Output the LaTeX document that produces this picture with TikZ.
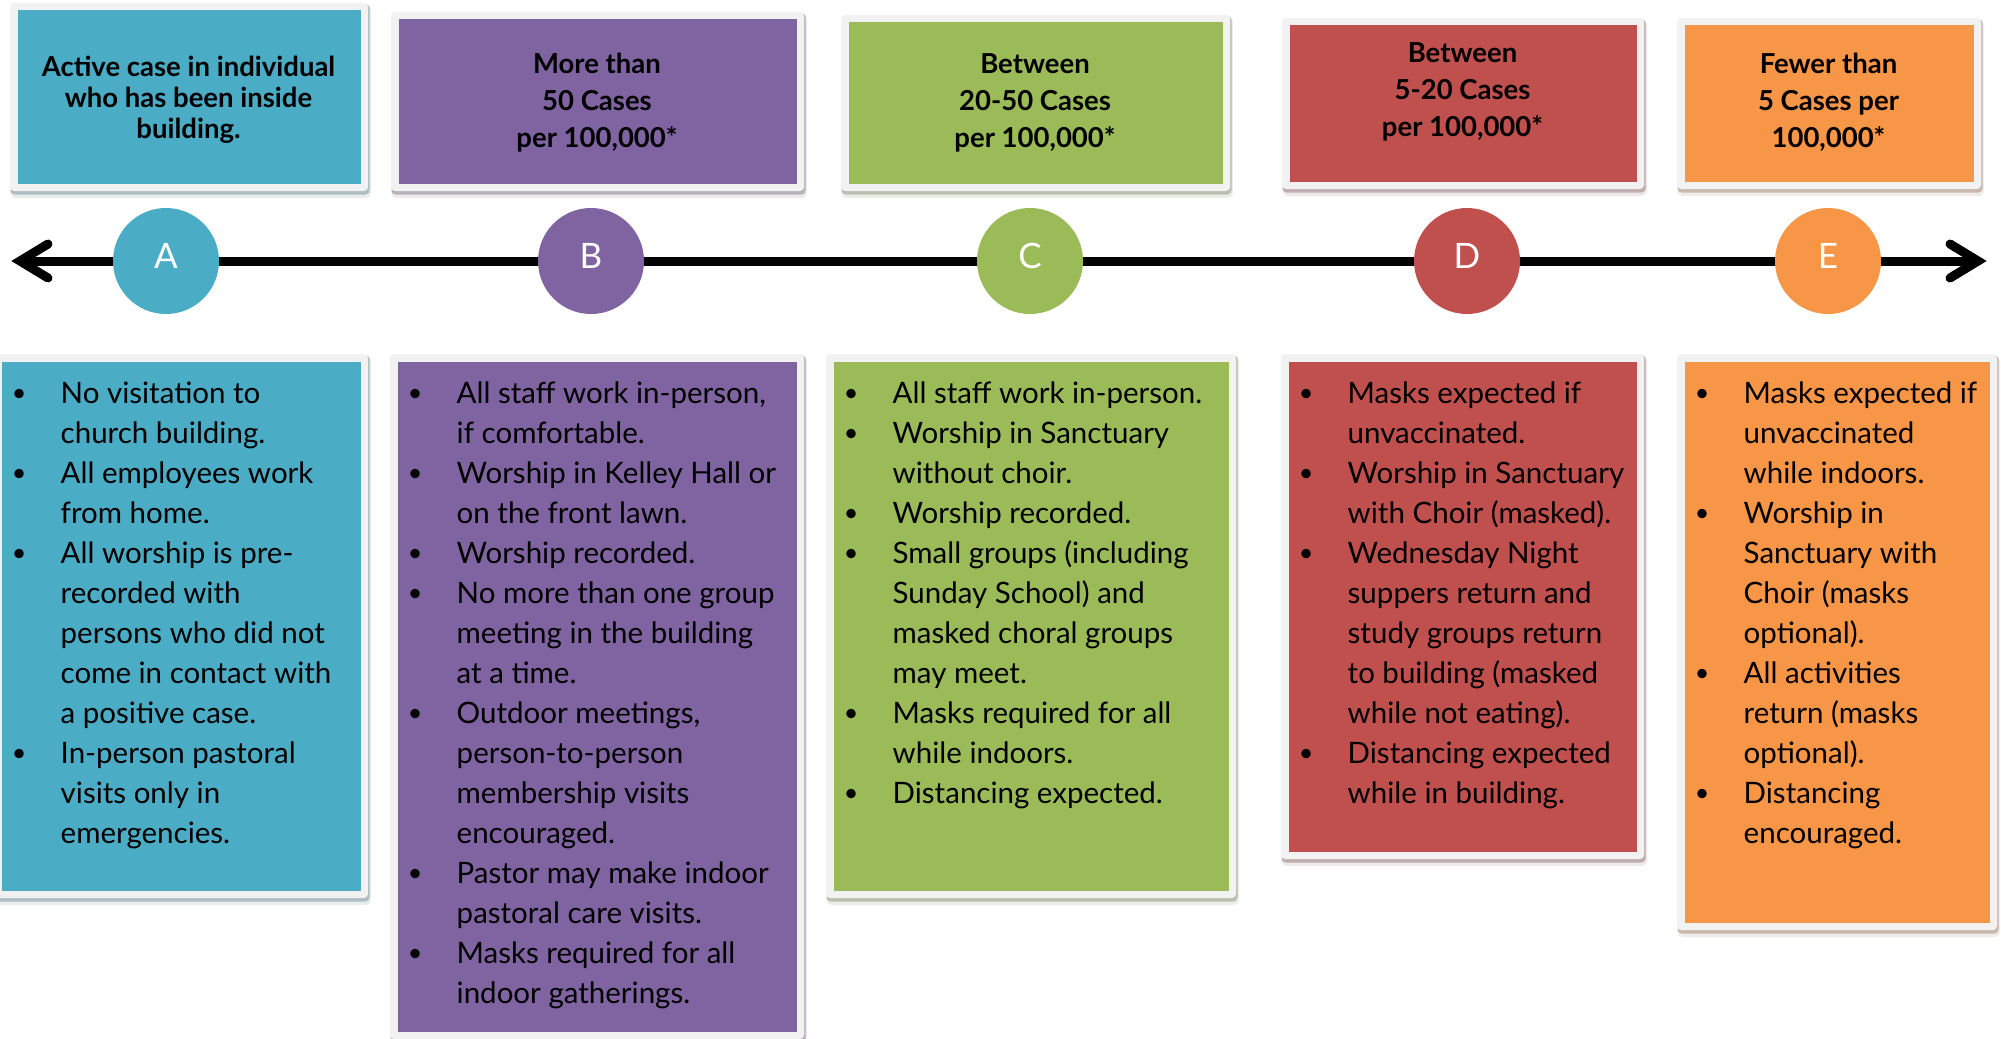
\documentclass[tikz,border=0pt]{standalone}
\usepackage{fontspec}
\setmainfont{Lato}
\usetikzlibrary{calc,fit}
\definecolor{cA}{HTML}{4BACC6}
\definecolor{cB}{HTML}{8064A2}
\definecolor{cC}{HTML}{9BBB59}
\definecolor{cD}{HTML}{C0504D}
\definecolor{cE}{HTML}{F79646}
\definecolor{framecol}{HTML}{F2F2F2}
\newcommand\mypanel[6]{%
  \fill[#2!45!black, opacity=.10, rounded corners=5] ($(#3,#4)+(0.5,2)$) rectangle ($(#5,#6)+(3,7)$);
  \fill[#2!45!black, opacity=.30, rounded corners=4] ($(#3,#4)+(0.5,1)$) rectangle ($(#5,#6)+(1.5,3.5)$);
  \fill[framecol, rounded corners=4] (#3,#4) rectangle (#5,#6);
  \node[fit={($(#3,#4)+(7.5,7.5)$) ($(#5,#6)+(-7.5,-7.5)$)}, inner sep=0pt, outer sep=0pt, fill=#2] (#1) {};
}
\newcommand\bu{\makebox[0pt]{\hspace{3pt}\raisebox{2pt}{\scalebox{0.85}{\textbullet}}}}
\newcommand\hd{\fontsize{27.5}{30.5}\selectfont\bfseries}
\tikzset{
  bodytxt/.style={anchor=base west, inner sep=0pt, text=black, font=\fontsize{29.5}{40}\selectfont},
  headtxt/.style={anchor=base, inner sep=0pt, text=black},
  circ/.style={circle, fill=#1, minimum size=106pt, inner sep=0pt, text=white,
    font=\fontsize{35}{35}\selectfont, text height=25pt, text depth=10pt},
  shaft/.style={line width=9pt, black},
  chevron/.style={line width=9pt, black, line cap=round, line join=miter}
}
\begin{document}
\begin{tikzpicture}[x=1pt, y=-1pt]
\useasboundingbox (0,0) rectangle (2001,1038);
% top panels
\mypanel{hA}{cA}{10}{3}{368}{191}
\mypanel{hB}{cB}{391}{12}{804}{191}
\mypanel{hC}{cC}{841}{15}{1230}{191}
\mypanel{hD}{cD}{1282}{18}{1644}{189}
\mypanel{hE}{cE}{1677}{18}{1981}{189}
% bottom panels
\mypanel{bA}{cA}{-6}{354}{368}{898}
\mypanel{bB}{cB}{390}{354}{804}{1039}
\mypanel{bC}{cC}{826}{354}{1236}{898}
\mypanel{bD}{cD}{1281}{354}{1644}{859}
\mypanel{bE}{cE}{1677}{354}{1997}{930}
% headers
\node[headtxt] (tA) at (188.5,77) {\hd\fontsize{27.5}{31}\selectfont\begin{tabular}[t]{@{}c@{}}Active case in individual\\who has been inside\\building.\end{tabular}};
\node[headtxt] (tB) at (597,74) {\hd\fontsize{27.5}{37}\selectfont\begin{tabular}[t]{@{}c@{}}More than\\50 Cases\\per 100,000*\end{tabular}};
\node[headtxt] (tC) at (1035,74) {\hd\fontsize{27.5}{37}\selectfont\begin{tabular}[t]{@{}c@{}}Between\\20-50 Cases\\per 100,000*\end{tabular}};
\node[headtxt] (tD) at (1462.5,63) {\hd\fontsize{27.5}{37}\selectfont\begin{tabular}[t]{@{}c@{}}Between\\5-20 Cases\\per 100,000*\end{tabular}};
\node[headtxt] (tE) at (1828.5,74) {\hd\fontsize{27.5}{37}\selectfont\begin{tabular}[t]{@{}c@{}}Fewer than\\5 Cases per\\100,000*\end{tabular}};
% timeline
\coordinate (L) at (20,261);
\coordinate (R) at (1978,261);
\draw[shaft] (L) -- (R);
\draw[chevron] ($(L)+(28,-17)$) -- (L) -- ($(L)+(28,17)$);
\draw[chevron] ($(R)+(-28,-17)$) -- (R) -- ($(R)+(-28,17)$);
\node[circ=cA] (cirA) at (166,261) {A};
\node[circ=cB] (cirB) at (591,261) {B};
\node[circ=cC] (cirC) at (1030,261) {C};
\node[circ=cD] (cirD) at (1467,261) {D};
\node[circ=cE] (cirE) at (1828,261) {E};
% bullet lists
\node[bodytxt] (lA) at (17.5,403) {\begin{tabular}[t]{@{}l@{\hspace{43pt}}l@{}}
\bu & No visitation to\\
    & church building.\\
\bu & All employees work\\
    & from home.\\
\bu & All worship is pre-\\
    & recorded with\\
    & persons who did not\\
    & come in contact with\\
    & a positive case.\\
\bu & In-person pastoral\\
    & visits only in\\
    & emergencies.
\end{tabular}};
\node[bodytxt] (lB) at (413.5,403) {\begin{tabular}[t]{@{}l@{\hspace{43pt}}l@{}}
\bu & All staff work in-person,\\
    & if comfortable.\\
\bu & Worship in Kelley Hall or\\
    & on the front lawn.\\
\bu & Worship recorded.\\
\bu & No more than one group\\
    & meeting in the building\\
    & at a time.\\
\bu & Outdoor meetings,\\
    & person-to-person\\
    & membership visits\\
    & encouraged.\\
\bu & Pastor may make indoor\\
    & pastoral care visits.\\
\bu & Masks required for all\\
    & indoor gatherings.
\end{tabular}};
\node[bodytxt] (lC) at (849.5,403) {\begin{tabular}[t]{@{}l@{\hspace{43pt}}l@{}}
\bu & All staff work in-person.\\
\bu & Worship in Sanctuary\\
    & without choir.\\
\bu & Worship recorded.\\
\bu & Small groups (including\\
    & Sunday School) and\\
    & masked choral groups\\
    & may meet.\\
\bu & Masks required for all\\
    & while indoors.\\
\bu & Distancing expected.
\end{tabular}};
\node[bodytxt] (lD) at (1304.5,403) {\begin{tabular}[t]{@{}l@{\hspace{43pt}}l@{}}
\bu & Masks expected if\\
    & unvaccinated.\\
\bu & Worship in Sanctuary\\
    & with Choir (masked).\\
\bu & Wednesday Night\\
    & suppers return and\\
    & study groups return\\
    & to building (masked\\
    & while not eating).\\
\bu & Distancing expected\\
    & while in building.
\end{tabular}};
\node[bodytxt] (lE) at (1700.5,403) {\begin{tabular}[t]{@{}l@{\hspace{43pt}}l@{}}
\bu & Masks expected if\\
    & unvaccinated\\
    & while indoors.\\
\bu & Worship in\\
    & Sanctuary with\\
    & Choir (masks\\
    & optional).\\
\bu & All activities\\
    & return (masks\\
    & optional).\\
\bu & Distancing\\
    & encouraged.
\end{tabular}};
\end{tikzpicture}
\end{document}
